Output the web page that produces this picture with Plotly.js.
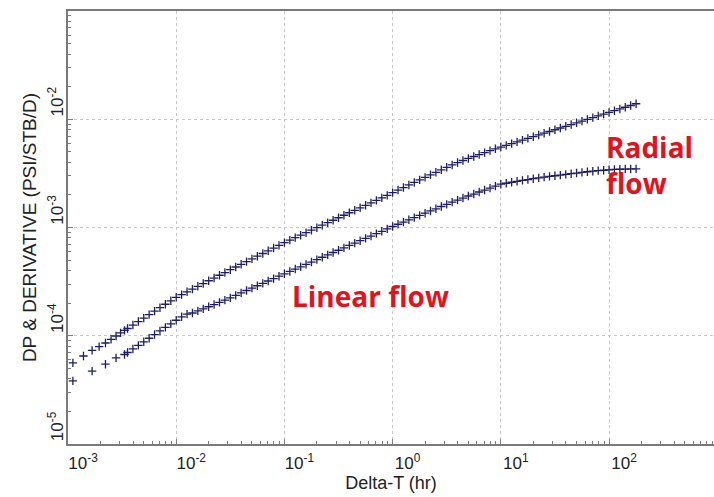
<!DOCTYPE html>
<html>
<head>
<meta charset="utf-8">
<script src="https://cdn.plot.ly/plotly-3.0.1.min.js"></script>
<style>
  html, body { margin: 0; padding: 0; background: #ffffff; overflow: hidden; }
  #chart { width: 714px; height: 497px; }
</style>
</head>
<body>
<div id="chart"></div>
<script>
// Elapsed time, hr
var deltaT = [
  0.00111, 0.00139, 0.00167, 0.00194, 0.00222, 0.00250, 0.00278, 0.00306, 0.00333,
  0.003548, 0.003981, 0.004467, 0.005012, 0.005623, 0.006310, 0.007079, 0.007943, 0.008913,
  0.01000, 0.01122, 0.01259, 0.01413, 0.01585, 0.01778, 0.01995, 0.02239, 0.02512, 0.02818,
  0.03162, 0.03548, 0.03981, 0.04467, 0.05012, 0.05623, 0.06310, 0.07079, 0.07943, 0.08913,
  0.1000, 0.1122, 0.1259, 0.1413, 0.1585, 0.1778, 0.1995, 0.2239, 0.2512, 0.2818,
  0.3162, 0.3548, 0.3981, 0.4467, 0.5012, 0.5623, 0.6310, 0.7079, 0.7943, 0.8913,
  1.000, 1.122, 1.259, 1.413, 1.585, 1.778, 1.995, 2.239, 2.512, 2.818,
  3.162, 3.548, 3.981, 4.467, 5.012, 5.623, 6.310, 7.079, 7.943, 8.913,
  10.00, 11.22, 12.59, 14.13, 15.85, 17.78, 19.95, 22.39, 25.12, 28.18,
  31.62, 35.48, 39.81, 44.67, 50.12, 56.23, 63.10, 70.79, 79.43, 89.13,
  100.0, 112.2, 125.9, 141.3, 158.5, 177.8
];

// Pressure change DP, psi/(STB/D)
var dp = [
  5.62e-5, 6.50e-5, 7.33e-5, 7.94e-5, 8.57e-5, 9.27e-5, 9.95e-5, 1.062e-4, 1.122e-4,
  1.167e-4, 1.256e-4, 1.352e-4, 1.455e-4, 1.567e-4, 1.687e-4, 1.816e-4, 1.954e-4, 2.104e-4,
  2.265e-4, 2.399e-4, 2.547e-4, 2.698e-4, 2.864e-4, 3.034e-4, 3.221e-4, 3.412e-4, 3.622e-4, 3.837e-4,
  4.074e-4, 4.315e-4, 4.571e-4, 4.842e-4, 5.129e-4, 5.433e-4, 5.754e-4, 6.095e-4, 6.457e-4, 6.839e-4,
  7.244e-4, 7.638e-4, 8.054e-4, 8.492e-4, 8.954e-4, 9.441e-4, 9.954e-4, 1.050e-3, 1.107e-3, 1.167e-3,
  1.230e-3, 1.297e-3, 1.368e-3, 1.442e-3, 1.521e-3, 1.603e-3, 1.690e-3, 1.782e-3, 1.879e-3, 1.982e-3,
  2.099e-3, 2.218e-3, 2.339e-3, 2.472e-3, 2.606e-3, 2.754e-3, 2.904e-3, 3.069e-3, 3.236e-3, 3.412e-3,
  3.597e-3, 3.784e-3, 3.981e-3, 4.159e-3, 4.345e-3, 4.529e-3, 4.721e-3, 4.920e-3, 5.129e-3, 5.333e-3,
  5.534e-3, 5.741e-3, 5.957e-3, 6.180e-3, 6.412e-3, 6.653e-3, 6.902e-3, 7.161e-3, 7.430e-3, 7.709e-3,
  7.998e-3, 8.299e-3, 8.610e-3, 8.933e-3, 9.268e-3, 9.616e-3, 9.977e-3, 1.035e-2, 1.074e-2, 1.114e-2,
  1.156e-2, 1.199e-2, 1.245e-2, 1.291e-2, 1.340e-2, 1.390e-2
];

// Pressure derivative, psi/(STB/D)
var derivative = [
  3.83e-5, null, 4.71e-5, null, 5.46e-5, null, 6.24e-5, null, 6.71e-5,
  7.00e-5, 7.55e-5, 8.15e-5, 8.79e-5, 9.48e-5, 1.026e-4, 1.107e-4, 1.194e-4, 1.288e-4,
  1.390e-4, 1.496e-4, 1.585e-4, 1.622e-4, 1.698e-4, 1.770e-4, 1.854e-4, 1.941e-4, 2.032e-4, 2.133e-4,
  2.239e-4, 2.360e-4, 2.489e-4, 2.618e-4, 2.754e-4, 2.897e-4, 3.048e-4, 3.206e-4, 3.373e-4, 3.548e-4,
  3.733e-4, 3.926e-4, 4.130e-4, 4.335e-4, 4.560e-4, 4.797e-4, 5.047e-4, 5.309e-4, 5.585e-4, 5.875e-4,
  6.166e-4, 6.486e-4, 6.823e-4, 7.178e-4, 7.551e-4, 7.943e-4, 8.337e-4, 8.770e-4, 9.226e-4, 9.705e-4,
  1.021e-3, 1.072e-3, 1.122e-3, 1.178e-3, 1.233e-3, 1.294e-3, 1.355e-3, 1.422e-3, 1.489e-3, 1.563e-3,
  1.637e-3, 1.714e-3, 1.791e-3, 1.871e-3, 1.954e-3, 2.037e-3, 2.128e-3, 2.218e-3, 2.312e-3, 2.410e-3,
  2.512e-3, 2.564e-3, 2.618e-3, 2.673e-3, 2.723e-3, 2.773e-3, 2.825e-3, 2.871e-3, 2.917e-3, 2.965e-3,
  3.006e-3, 3.048e-3, 3.097e-3, 3.141e-3, 3.184e-3, 3.228e-3, 3.273e-3, 3.311e-3, 3.350e-3, 3.381e-3,
  3.412e-3, 3.436e-3, 3.451e-3, 3.467e-3, 3.475e-3, 3.483e-3
];

var xTickVals = [1e-3, 1e-2, 1e-1, 1e0, 1e1, 1e2];
var xTickText = ["10<sup>-3</sup>", "10<sup>-2</sup>", "10<sup>-1</sup>", "10<sup>0</sup>", "10<sup>1</sup>", "10<sup>2</sup>"];
var yTickVals = [1e-5, 1e-4, 1e-3, 1e-2];
var yTickText = ["10<sup>-5</sup>", "10<sup>-4</sup>", "10<sup>-3</sup>", "10<sup>-2</sup>"];

var markerStyle = {
  symbol: 'cross-thin',
  size: 6,
  color: '#1e1e66',
  line: { color: '#1e1e66', width: 1.3 }
};

var traces = [
  { x: deltaT, y: dp, mode: 'markers', type: 'scatter', name: 'DP', marker: markerStyle },
  { x: deltaT, y: derivative, mode: 'markers', type: 'scatter', name: 'Derivative', marker: markerStyle }
];

var axisFont = { family: 'Liberation Sans, Arial, sans-serif', size: 17, color: '#222' };

var layout = {
  width: 714,
  height: 497,
  margin: { l: 68, r: 0, t: 11, b: 53, pad: 0 },
  paper_bgcolor: '#ffffff',
  plot_bgcolor: '#ffffff',
  showlegend: false,
  xaxis: {
    type: 'log',
    range: [-3, 2.97],
    tickmode: 'array',
    tickvals: xTickVals,
    ticktext: xTickText,
    ticks: 'inside',
    ticklen: 5,
    tickcolor: '#808080',
    tickfont: axisFont,
    ticklabelshift: 15,
    ticklabelstandoff: 3,
    showline: true,
    linecolor: '#7a7a7a',
    linewidth: 2,
    mirror: true,
    showgrid: true,
    gridcolor: '#c8c8c8',
    griddash: 'dot',
    gridwidth: 1,
    minor: { dtick: 'D1', ticks: 'inside', ticklen: 3, tickcolor: '#808080', showgrid: false },
    title: { text: 'Delta-T (hr)', font: { family: 'Liberation Sans, Arial, sans-serif', size: 18, color: '#222' }, standoff: 4 }
  },
  yaxis: {
    type: 'log',
    range: [-5, -1],
    tickmode: 'array',
    tickvals: yTickVals,
    ticktext: yTickText,
    tickangle: -90,
    ticks: 'inside',
    ticklen: 5,
    tickcolor: '#808080',
    tickfont: axisFont,
    ticklabelshift: -15,
    ticklabelstandoff: -4,
    showline: true,
    linecolor: '#7a7a7a',
    linewidth: 2,
    mirror: false,
    showgrid: true,
    gridcolor: '#c8c8c8',
    griddash: 'dot',
    gridwidth: 1,
    minor: { dtick: 'D1', ticks: 'inside', ticklen: 3, tickcolor: '#808080', showgrid: false },
    title: { text: 'DP & DERIVATIVE (PSI/STB/D)', font: { family: 'Liberation Sans, Arial, sans-serif', size: 19, color: '#222' }, standoff: 3 }
  },
  annotations: [
    {
      text: 'Linear flow', xref: 'paper', yref: 'paper', x: 0.3440, y: 0.342,
      xanchor: 'left', yanchor: 'middle', showarrow: false,
      font: { family: 'Open Sans, sans-serif', size: 28, color: '#e0141e', weight: 700 }
    },
    {
      text: 'Radial<br>flow', xref: 'paper', yref: 'paper', x: 0.830, y: 0.645,
      xanchor: 'left', yanchor: 'middle', align: 'left', showarrow: false,
      font: { family: 'Open Sans, sans-serif', size: 28, color: '#e0141e', weight: 700 }
    }
  ]
};

Plotly.newPlot('chart', traces, layout, { displayModeBar: false, staticPlot: true });
</script>
</body>
</html>
